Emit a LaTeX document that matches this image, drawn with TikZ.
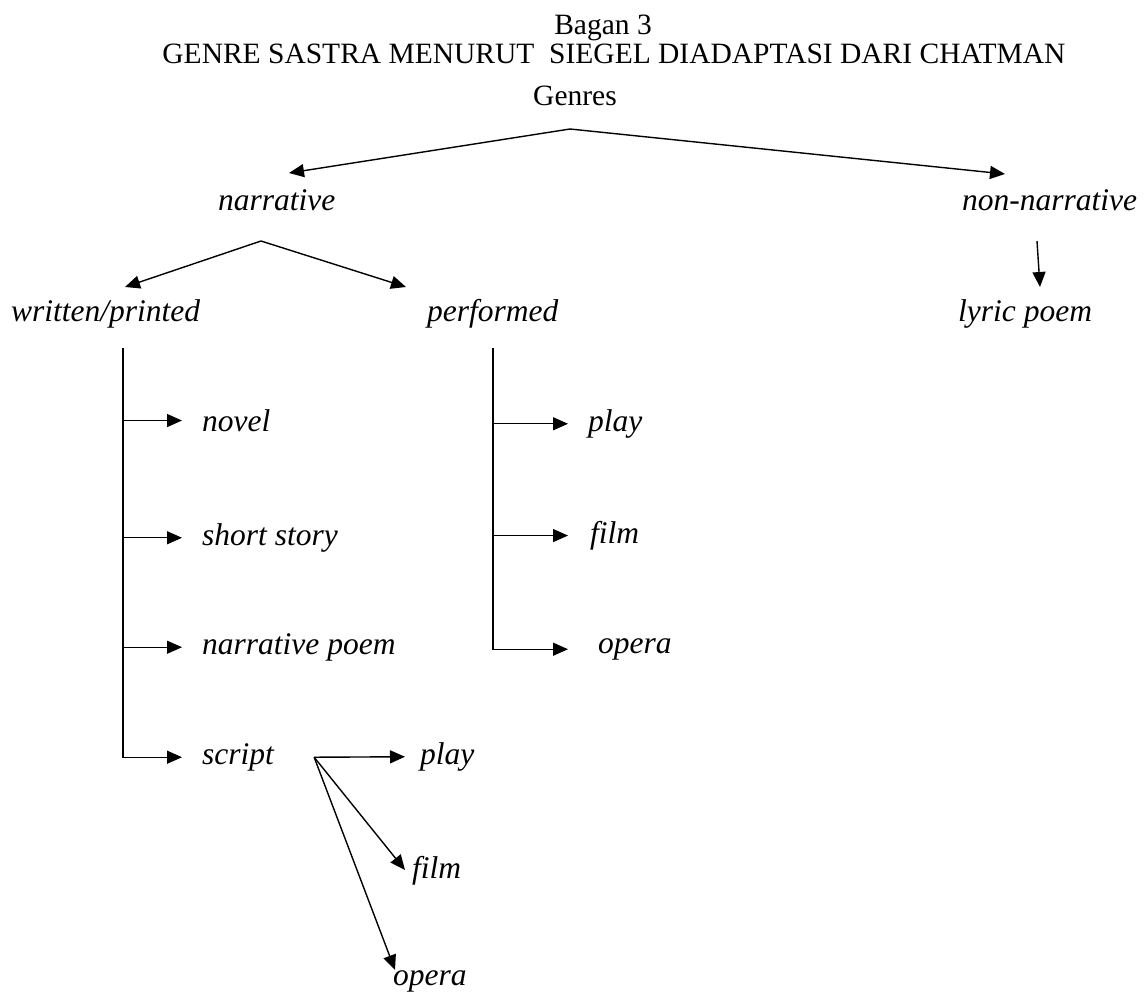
\documentclass[tikz,border=0pt]{standalone}
\usepackage{fontspec}
\setmainfont{Liberation Serif}
\usetikzlibrary{arrows.meta, positioning}

\begin{document}
\begin{tikzpicture}[
		x=1pt, y=-1pt,
		heading/.style={
			font=\fontsize{29.5}{34}\selectfont,
			anchor=base,
			inner sep=0pt
		},
		genre/.style={
			font=\fontsize{31.5}{36}\selectfont\itshape,
			anchor=mid west,
			inner sep=0pt
		},
		arrow/.style={-{Triangle[length=15pt, width=13pt]}, line width=1.4pt},
		trunk/.style={line width=1.4pt}
		]
		
		\useasboundingbox (0,0) rectangle (1144,996);
		
		\node[heading] (bagan) at (603,34) {Bagan 3};
		\node[heading] (judul) at (614,63) {GENRE SASTRA MENURUT\ \ SIEGEL DIADAPTASI DARI CHATMAN};
		\node[heading] (genres) at (575,105) {Genres};
		
		\node[genre] (narrative) at (218,208) {narrative};
		\node[genre] (nonnarr) at (962,208) {non-narrative};
		\node[genre] (written) at (11,319) {written/printed};
		\node[genre] (performed) at (427,319) {performed};
		\node[genre] (lyric) at (958,319) {lyric poem};
		
		\node[genre] (novel) at (202,429) {novel};
		\node[genre] (short) at (202,543) {short story};
		\node[genre] (npoem) at (202,652) {narrative poem};
		\node[genre] (script) at (202,762) {script};
		
		\node[genre] (pplay) at (588,429) {play};
		\node[genre] (pfilm) at (590,541) {film};
		\node[genre] (popera) at (598,651) {opera};
		
		\node[genre] (splay) at (420,762) {play};
		\node[genre] (sfilm) at (412,876) {film};
		\node[genre] (sopera) at (393,983) {opera};
		
		\coordinate (g-apex) at (570,129);
		\coordinate (narr-in) at (289,173);
		\coordinate (non-in) at (1005,174);
		\coordinate (narr-apex) at (261,241);
		\coordinate (wp-in) at (125,287);
		\coordinate (pf-in) at (406,287);
		\coordinate (non-out) at (1037,241);
		\coordinate (lyr-in) at (1040,287);
		\coordinate (wp-top) at (123,348);
		\coordinate (wp-tip) at (182,348);
		\coordinate (pf-top) at (493,348);
		\coordinate (pf-tip) at (568,348);
		\coordinate (sc-out) at ([xshift=40pt]script.east);
		\coordinate (sf-in) at (405,870);
		\coordinate (so-in) at (395,970);
		
		\draw[arrow] (g-apex) -- (narr-in);
		\draw[arrow] (g-apex) -- (non-in);
		\draw[arrow] (narr-apex) -- (wp-in);
		\draw[arrow] (narr-apex) -- (pf-in);
		\draw[arrow] (non-out) -- (lyr-in);
		
		\draw[arrow] (wp-top) |- (wp-tip |- script.west);
		\foreach \n in {novel, short, npoem}
			\draw[arrow] (wp-top |- \n.west) -- (wp-tip |- \n.west);
		
		\draw[arrow] (pf-top) |- (pf-tip |- popera.west);
		\foreach \n in {pplay, pfilm}
			\draw[arrow] (pf-top |- \n.west) -- (pf-tip |- \n.west);
		
		\draw[arrow] (sc-out) -- ([xshift=-15pt]splay.west);
		\draw[arrow] (sc-out) -- (sf-in);
		\draw[arrow] (sc-out) -- (so-in);
		
	\end{tikzpicture}
\end{document}
